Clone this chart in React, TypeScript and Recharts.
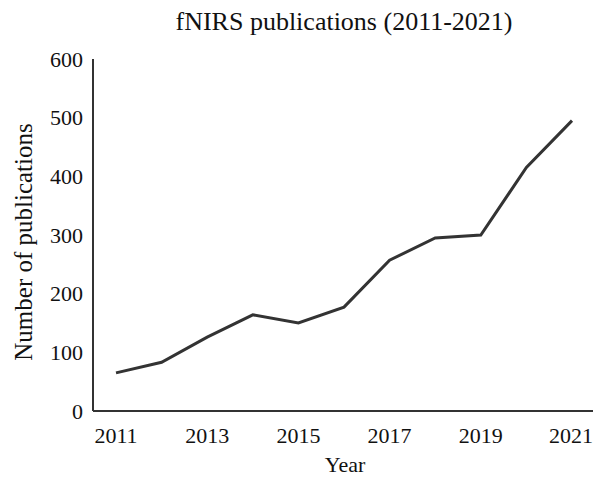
import React from 'react';
import { LineChart, Line, XAxis, YAxis, Label } from 'recharts';

// publications per year
const years = [2011, 2012, 2013, 2014, 2015, 2016, 2017, 2018, 2019, 2020, 2021];
const publications = [65, 83, 126, 164, 150, 177, 257, 295, 300, 415, 495];
const xTicks = [2011, 2013, 2015, 2017, 2019, 2021];
const yTicks = [0, 100, 200, 300, 400, 500, 600];

const data = years.map((year, i) => ({ year, count: publications[i] }));

const FONT = '"Liberation Serif", "Times New Roman", serif';

export default function App() {
  return (
    <div style={{ position: 'absolute', left: 0, top: 0, width: 593, height: 478, background: '#fff' }}>
      <div
        style={{
          position: 'absolute',
          left: 93,
          width: 502,
          top: 9,
          textAlign: 'center',
          fontFamily: FONT,
          fontSize: 26,
          lineHeight: '26px',
          color: '#111',
        }}
      >
        fNIRS publications (2011-2021)
      </div>
      <LineChart width={593} height={478} data={data} margin={{ top: 59, right: 0, bottom: 37, left: 0 }}>
        <XAxis
          dataKey="year"
          type="number"
          domain={[2011, 2021]}
          ticks={xTicks}
          padding={{ left: 23, right: 21 }}
          tickLine={false}
          tickMargin={10}
          height={30}
          stroke="#333"
          strokeWidth={2}
          tick={{ fill: '#111', fontSize: 22, fontFamily: FONT }}
        >
          <Label
            content={() => (
              <text x={345} y={472} textAnchor="middle" fill="#111" fontSize={22} fontFamily={FONT}>
                Year
              </text>
            )}
          />
        </XAxis>
        <YAxis
          type="number"
          domain={[0, 600]}
          ticks={yTicks}
          width={93}
          tickLine={false}
          tickMargin={4}
          stroke="#333"
          strokeWidth={2}
          tick={{ fill: '#111', fontSize: 22, fontFamily: FONT }}
        >
          <Label
            content={() => (
              <text
                x={32}
                y={242}
                transform="rotate(-90 32 242)"
                textAnchor="middle"
                fill="#111"
                fontSize={25}
                fontFamily={FONT}
              >
                Number of publications
              </text>
            )}
          />
        </YAxis>
        <Line
          type="linear"
          dataKey="count"
          stroke="#333"
          strokeWidth={3}
          dot={false}
          isAnimationActive={false}
        />
      </LineChart>
    </div>
  );
}
